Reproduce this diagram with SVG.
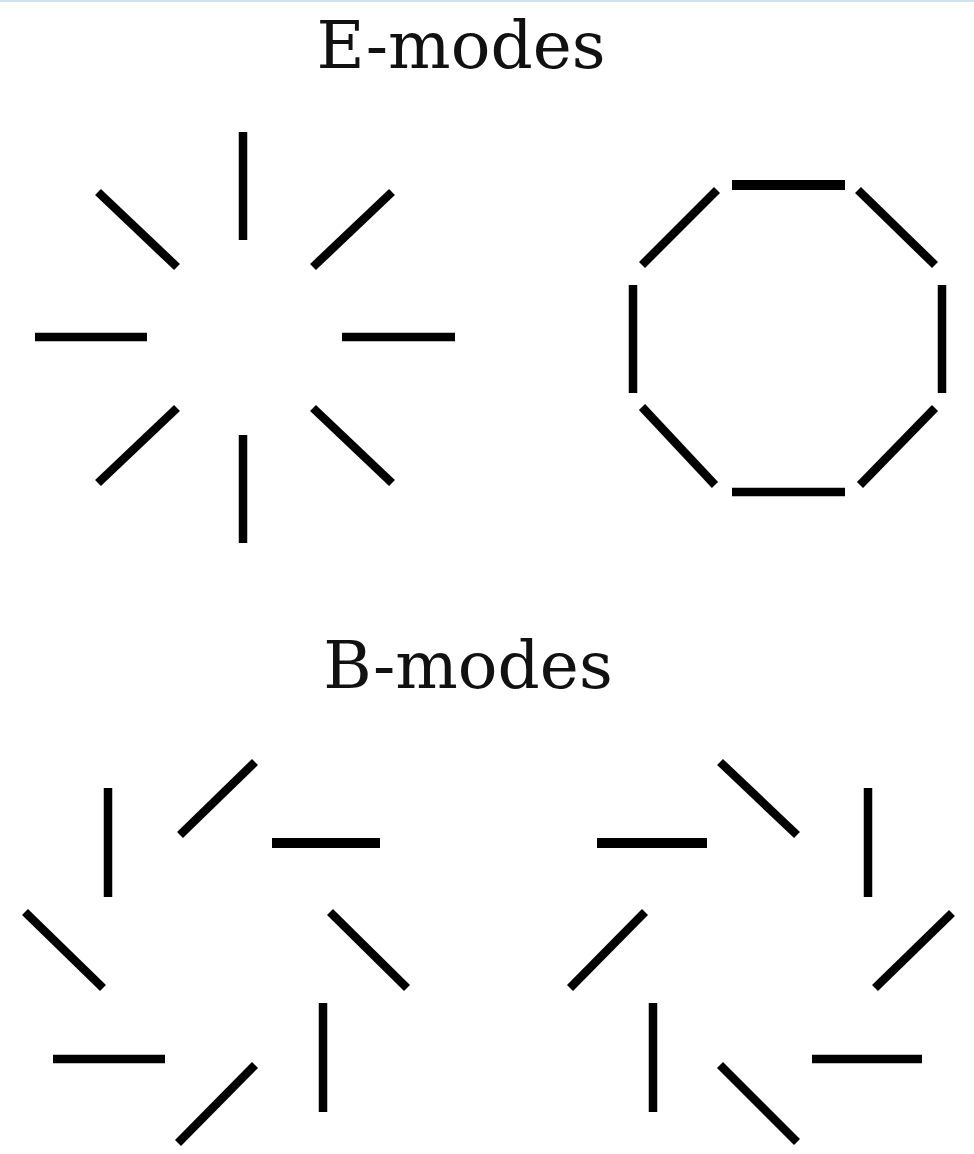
<svg xmlns="http://www.w3.org/2000/svg" width="974" height="1154" viewBox="0 0 974 1154">
<style>
.s{stroke:#000;stroke-width:8.5;stroke-linecap:butt;fill:none}
.t{stroke-width:10}
.lbl{font-family:"DejaVu Serif","Liberation Serif",serif;font-size:66px;fill:#111;text-anchor:middle}
</style>
<rect width="974" height="1154" fill="#fff"/>
<rect x="0" y="0" width="974" height="2" fill="#cfe3f3"/>
<g id="title-e"><text class="lbl" x="461" y="68">E-modes</text></g>
<g id="title-b"><text class="lbl" x="468" y="688">B-modes</text></g>
<g id="connectors">
<g id="e-radial">
<line class="s" x1="243" y1="132" x2="243" y2="240"/>
<line class="s" x1="98" y1="192" x2="177" y2="267"/>
<line class="s" x1="392" y1="192" x2="313" y2="267"/>
<line class="s" x1="35" y1="337" x2="147" y2="337"/>
<line class="s" x1="342" y1="337" x2="455" y2="337"/>
<line class="s" x1="177" y1="408" x2="98" y2="483"/>
<line class="s" x1="313" y1="408" x2="392" y2="483"/>
<line class="s" x1="243" y1="435" x2="243" y2="543"/>
</g>
<g id="e-tangential">
<line class="s t" x1="732" y1="185" x2="845" y2="185"/>
<line class="s" x1="717" y1="190" x2="642" y2="265"/>
<line class="s" x1="858" y1="190" x2="935" y2="265"/>
<line class="s" x1="633" y1="285" x2="633" y2="393"/>
<line class="s" x1="942" y1="285" x2="942" y2="393"/>
<line class="s" x1="642" y1="407" x2="715" y2="485"/>
<line class="s" x1="935" y1="408" x2="860" y2="485"/>
<line class="s" x1="732" y1="492" x2="845" y2="492"/>
</g>
<g id="b-left">
<line class="s" x1="108" y1="788" x2="108" y2="897"/>
<line class="s" x1="180" y1="835" x2="255" y2="762"/>
<line class="s t" x1="272" y1="843" x2="380" y2="843"/>
<line class="s" x1="25" y1="912" x2="103" y2="988"/>
<line class="s" x1="330" y1="912" x2="407" y2="988"/>
<line class="s" x1="53" y1="1059" x2="165" y2="1059"/>
<line class="s" x1="255" y1="1065" x2="178" y2="1143"/>
<line class="s" x1="323" y1="1003" x2="323" y2="1112"/>
</g>
<g id="b-right">
<line class="s" x1="720" y1="762" x2="797" y2="835"/>
<line class="s" x1="868" y1="788" x2="868" y2="897"/>
<line class="s t" x1="597" y1="843" x2="707" y2="843"/>
<line class="s" x1="645" y1="912" x2="570" y2="988"/>
<line class="s" x1="952" y1="913" x2="875" y2="988"/>
<line class="s" x1="653" y1="1003" x2="653" y2="1112"/>
<line class="s" x1="720" y1="1065" x2="797" y2="1142"/>
<line class="s" x1="812" y1="1059" x2="922" y2="1059"/>
</g>
</g>
</svg>
